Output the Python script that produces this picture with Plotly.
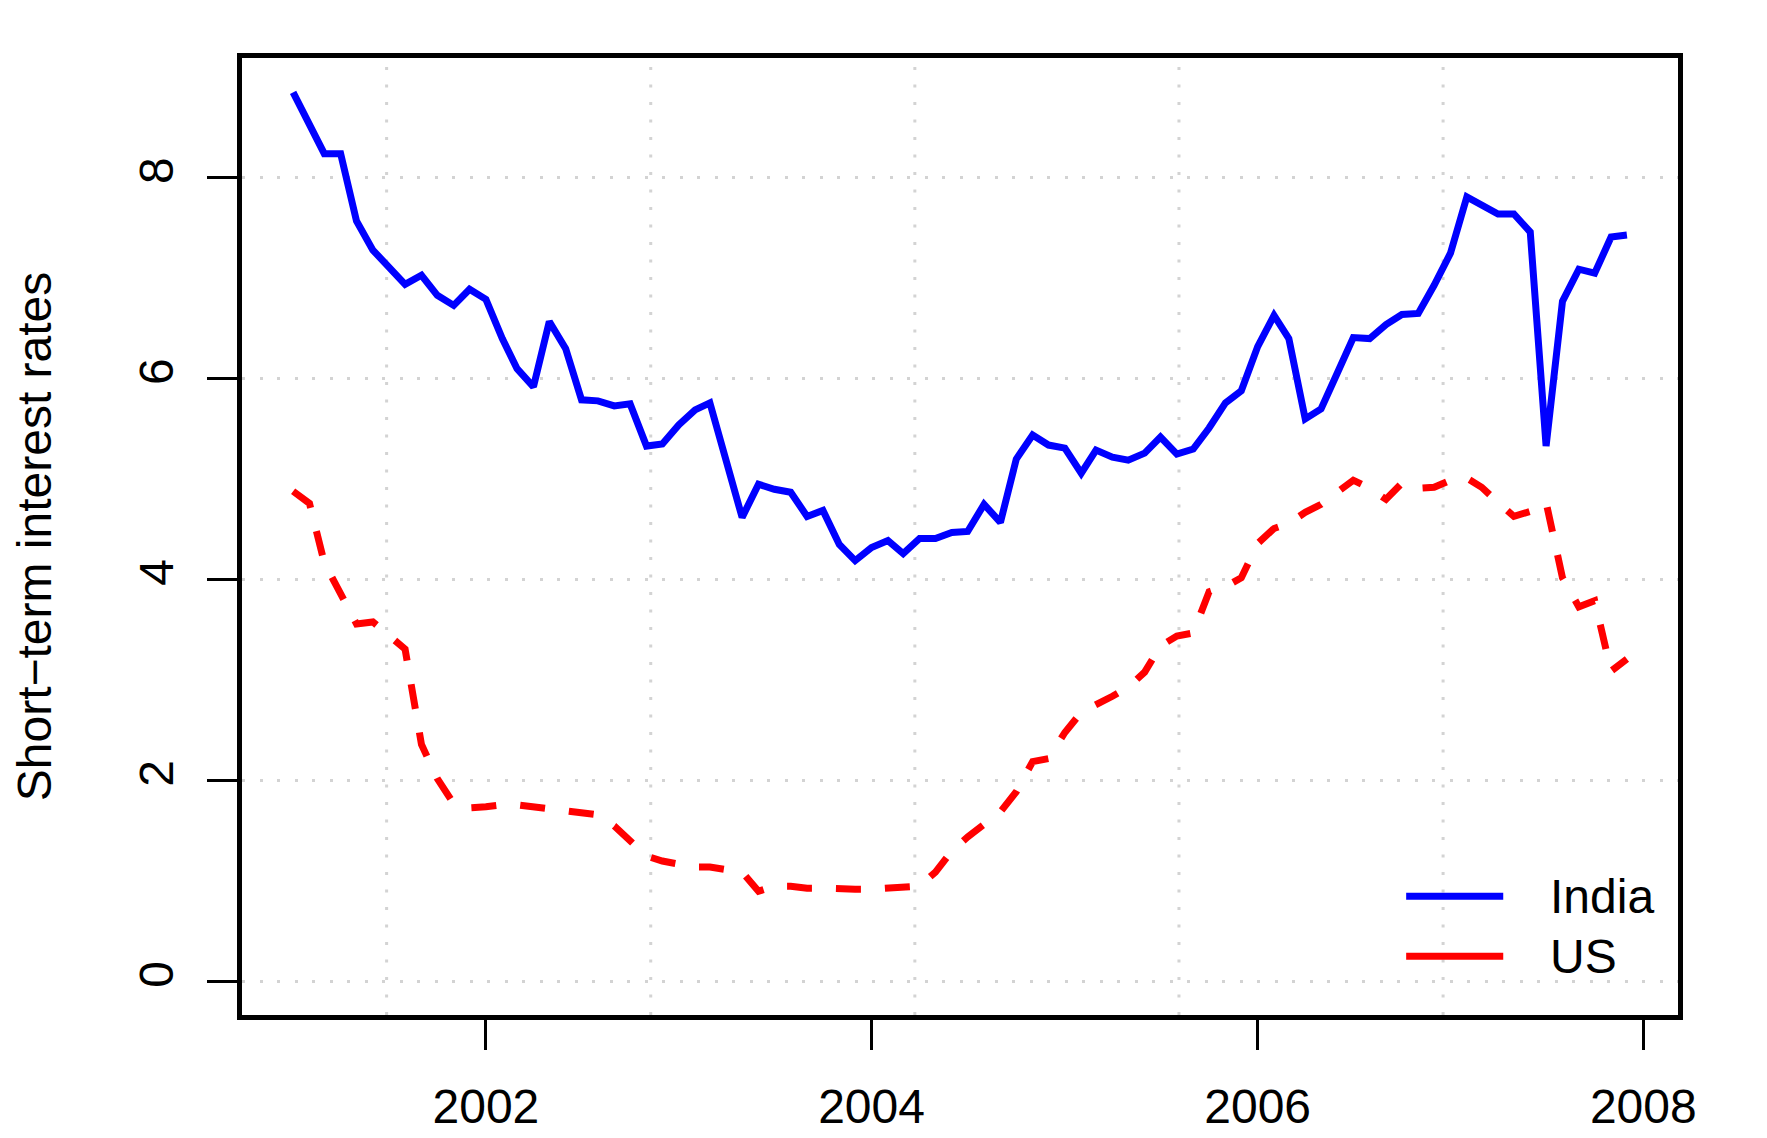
import pandas as pd
import plotly.graph_objects as go

# ---- data (monthly, Jan 2001 - Dec 2007) ----
dates = pd.date_range("2001-01-01", periods=84, freq="MS")

india = [8.85, 8.54, 8.24, 8.24, 7.57, 7.28, 7.10, 6.94, 7.03, 6.83, 6.73, 6.89,
         6.79, 6.40, 6.10, 5.92, 6.57, 6.30, 5.79, 5.78, 5.73, 5.75, 5.33, 5.35,
         5.54, 5.69, 5.76, 5.19, 4.62, 4.95, 4.90, 4.87, 4.63, 4.69, 4.35, 4.19,
         4.32, 4.39, 4.26, 4.41, 4.41, 4.47, 4.48, 4.75, 4.57, 5.20, 5.44, 5.34,
         5.31, 5.06, 5.29, 5.22, 5.19, 5.26, 5.42, 5.25, 5.30, 5.51, 5.76, 5.88,
         6.32, 6.63, 6.40, 5.60, 5.70, 6.06, 6.41, 6.40, 6.54, 6.64, 6.65, 6.93,
         7.25, 7.81, 7.73, 7.64, 7.64, 7.46, 5.33, 6.77, 7.09, 7.05, 7.41, 7.43]

us = [4.88, 4.76, 4.17, 3.85, 3.56, 3.58, 3.44, 3.31, 2.36, 2.02, 1.77, 1.73,
      1.74, 1.76, 1.76, 1.74, 1.71, 1.70, 1.68, 1.66, 1.55, 1.40, 1.25, 1.20,
      1.17, 1.14, 1.14, 1.12, 1.09, 0.90, 0.95, 0.95, 0.93, 0.93, 0.92, 0.92,
      0.92, 0.93, 0.94, 0.95, 1.09, 1.30, 1.44, 1.57, 1.69, 1.89, 2.19, 2.22,
      2.48, 2.68, 2.75, 2.84, 2.93, 3.08, 3.34, 3.44, 3.47, 3.88, 3.93, 4.02,
      4.36, 4.51, 4.56, 4.67, 4.75, 4.88, 4.99, 4.91, 4.80, 4.96, 4.91, 4.92,
      4.99, 5.01, 4.92, 4.77, 4.63, 4.68, 4.77, 4.02, 3.73, 3.79, 3.09, 3.21]

series_names = ["India", "US"]
series_colors = ["#0000FF", "#FF0000"]

x_tick_vals = ["2002-01-01", "2004-01-01", "2006-01-01", "2008-01-01"]
x_tick_text = ["2002", "2004", "2006", "2008"]
y_tick_vals = [0, 2, 4, 6, 8]
y_tick_text = ["0", "2", "4", "6", "8"]

# vertical grid positions (days since 1970-01-01, as R's grid() on a Date axis)
grid_days = [11500, 12000, 12500, 13000, 13500]
grid_dates = [pd.Timestamp("1970-01-01") + pd.Timedelta(days=d) for d in grid_days]

FONT = "Liberation Sans, Arial, Helvetica, sans-serif"
FS = 48
GRID = "#D3D3D3"
LW = 7

fig = go.Figure()
fig.add_trace(go.Scatter(x=dates, y=india, mode="lines", name=series_names[0],
                         line=dict(color=series_colors[0], width=LW),
                         showlegend=False))
fig.add_trace(go.Scatter(x=dates, y=us, mode="lines", name=series_names[1],
                         line=dict(color=series_colors[1], width=LW, dash="25px,24px"),
                         showlegend=False))

shapes = []
for gd in grid_dates:
    shapes.append(dict(type="line", xref="x", yref="paper", x0=gd, x1=gd, y0=0, y1=1,
                       line=dict(color=GRID, width=3, dash="3px,14.5px"), layer="below"))

# manual legend (long line samples as in the original)
leg_y = [0.1240, 0.0613]
for name, col, ly in zip(series_names, series_colors, leg_y):
    shapes.append(dict(type="line", xref="paper", yref="paper", x0=0.8107, x1=0.8783,
                       y0=ly, y1=ly, line=dict(color=col, width=LW)))

annotations = []
for name, ly in zip(series_names, leg_y):
    annotations.append(dict(text=name, xref="paper", yref="paper", x=0.9093, y=ly,
                            xanchor="left", yanchor="middle", showarrow=False,
                            font=dict(family=FONT, size=FS, color="black")))

fig.update_layout(
    width=1759, height=1130,
    margin=dict(l=234, r=89, t=50, b=123),
    paper_bgcolor="white", plot_bgcolor="white",
    font=dict(family=FONT, size=FS, color="black"),
    shapes=shapes, annotations=annotations,
    showlegend=False,
    xaxis=dict(type="date", range=["2000-09-26 06:00", "2008-03-06 17:00"], automargin=False,
               tickmode="array", tickvals=x_tick_vals, ticktext=x_tick_text,
               ticks="outside", ticklen=30, tickwidth=3, tickcolor="black",
               showline=True, linecolor="black", linewidth=4.5, mirror=True,
               showgrid=False, zeroline=False, ticklabelstandoff=16,
               tickfont=dict(family=FONT, size=FS, color="black")),
    yaxis=dict(range=[-0.332, 9.192], automargin=False,
               tickmode="array", tickvals=y_tick_vals, ticktext=y_tick_text,
               tickangle=-90,
               ticks="outside", ticklen=30, tickwidth=3, tickcolor="black",
               showline=True, linecolor="black", linewidth=4.5, mirror=True,
               showgrid=True, gridcolor=GRID, gridwidth=3, griddash="3px,14.5px",
               zeroline=False, ticklabelstandoff=15,
               tickfont=dict(family=FONT, size=FS, color="black")),
)
fig.update_yaxes(title=dict(text="Short\u2212term interest rates", standoff=65,
                            font=dict(family=FONT, size=FS, color="black")))

fig.write_html("out.html")
